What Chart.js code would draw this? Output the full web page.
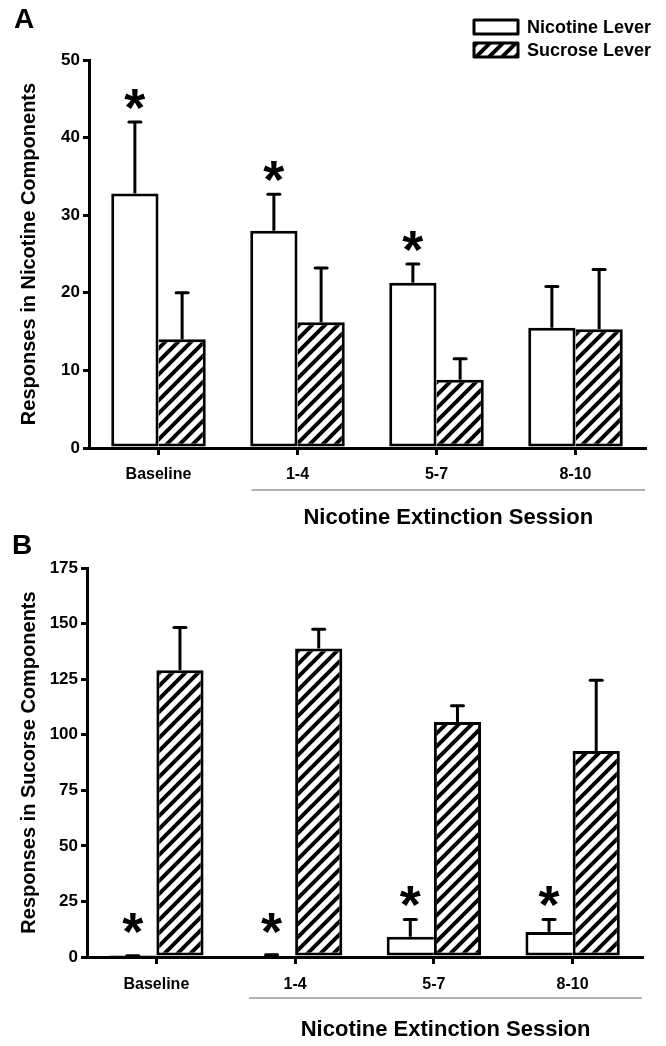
<!DOCTYPE html>
<html>
<head>
<meta charset="utf-8">
<script src="https://cdn.jsdelivr.net/npm/chart.js@4.4.1/dist/chart.umd.min.js"></script>
<style>
  html, body { margin: 0; padding: 0; background: #fff; }
  canvas { display: block; position: absolute; left: 0; top: 0; }
</style>
</head>
<body>
<canvas id="panelA" width="666" height="1046"></canvas>
<canvas id="panelB" width="666" height="1046"></canvas>
<script>
'use strict';

const sesiones = ["Baseline", "1-4", "5-7", "8-10"];
const leyenda = ["Nicotine Lever", "Sucrose Lever"];
const tituloX = "Nicotine Extinction Session";

// Panel A: respuestas en componentes de nicotina
const nicotinaA = [32.8, 28.0, 21.3, 15.5];
const nicotinaSemA = [9.2, 4.7, 2.4, 5.3];
const sacarosaA = [14.0, 16.2, 8.8, 15.3];
const sacarosaSemA = [6.0, 7.0, 2.7, 7.7];
const estrellasA = [true, true, true, false];

// Panel B: respuestas en componentes de sacarosa
const nicotinaB = [0.4, 0.7, 9.1, 11.3];
const nicotinaSemB = [0.2, 0.3, 7.8, 5.6];
const sacarosaB = [129.0, 138.8, 105.7, 92.7];
const sacarosaSemB = [19.2, 8.6, 7.3, 31.8];
const estrellasB = [true, true, true, true];

const FUENTE = '"Liberation Sans", Arial, sans-serif';

// patron rayado diagonal
function crearRayado() {
    const s = 13;
    const c = document.createElement('canvas');
    c.width = s; c.height = s;
    const g = c.getContext('2d');
    g.fillStyle = '#fff';
    g.fillRect(0, 0, s, s);
    g.strokeStyle = '#000';
    g.lineWidth = 4;
    g.beginPath();
    g.moveTo(0, s); g.lineTo(s, 0);
    g.moveTo(-2, 2); g.lineTo(2, -2);
    g.moveTo(s - 2, s + 2); g.lineTo(s + 2, s - 2);
    g.stroke();
    return g.createPattern(c, 'repeat');
}
const rayado = crearRayado();

function dibujarEstrella(ctx, x, yc) {
    ctx.font = 'bold 54px ' + FUENTE;
    ctx.textAlign = 'center';
    ctx.textBaseline = 'alphabetic';
    const m = ctx.measureText('*');
    const base = yc + (m.actualBoundingBoxAscent - m.actualBoundingBoxDescent) / 2;
    ctx.fillText('*', x, base);
}

const extrasPanel = {
    id: 'extrasPanel',
    afterDatasetsDraw(chart, args, opts) {
        const ctx = chart.ctx;
        const ys = chart.scales.y;
        const xs = chart.scales.x;
        const area = chart.chartArea;
        ctx.save();
        ctx.strokeStyle = '#000';
        ctx.fillStyle = '#000';

        // barras de error
        chart.data.datasets.forEach((ds, i) => {
            const meta = chart.getDatasetMeta(i);
            meta.data.forEach((bar, j) => {
                const yErr = ys.getPixelForValue(ds.data[j] + ds.sem[j]);
                ctx.lineWidth = 3;
                ctx.lineCap = 'butt';
                ctx.beginPath();
                ctx.moveTo(bar.x, bar.y);
                ctx.lineTo(bar.x, yErr);
                ctx.stroke();
                ctx.lineCap = 'round';
                ctx.beginPath();
                ctx.moveTo(bar.x - 6, yErr);
                ctx.lineTo(bar.x + 6, yErr);
                ctx.stroke();

                if (i === 0 && opts.estrellas[j]) {
                    const yc = Math.min(yErr - 23, area.bottom - 34);
                    dibujarEstrella(ctx, bar.x, yc);
                }
            });
        });

        // linea gris bajo las sesiones de extincion
        const x0 = xs.getPixelForValue(1) - 46;
        const x1 = area.right;
        ctx.strokeStyle = '#999';
        ctx.lineWidth = 1.5;
        ctx.lineCap = 'butt';
        ctx.beginPath();
        ctx.moveTo(x0, area.bottom + opts.lineaGris);
        ctx.lineTo(x1, area.bottom + opts.lineaGris);
        ctx.stroke();

        ctx.fillStyle = '#000';
        ctx.font = 'bold 22px ' + FUENTE;
        ctx.textAlign = 'center';
        ctx.textBaseline = 'middle';
        ctx.fillText(tituloX, (x0 + x1) / 2, area.bottom + opts.tituloX);

        // letra del panel
        ctx.font = 'bold 28px ' + FUENTE;
        ctx.textAlign = 'left';
        ctx.textBaseline = 'alphabetic';
        ctx.fillText(opts.letra, opts.letraX, opts.letraY);

        // leyenda
        if (opts.leyenda) {
            const fondos = ['#fff', rayado];
            fondos.forEach((f, k) => {
                const y0 = 20 + k * 23;
                ctx.fillStyle = f;
                ctx.fillRect(474, y0, 44, 14);
                ctx.strokeStyle = '#000';
                ctx.lineWidth = 3;
                ctx.lineJoin = 'round';
                ctx.strokeRect(474, y0, 44, 14);
                ctx.fillStyle = '#000';
                ctx.font = 'bold 18px ' + FUENTE;
                ctx.textAlign = 'left';
                ctx.textBaseline = 'middle';
                ctx.fillText(leyenda[k], 527, y0 + 8);
            });
        }
        ctx.restore();
    }
};

function crearPanel(id, cfg) {
    // la barra mas baja no dibuja el borde que comparte con su vecina
    const bordeNic = c => ({ top: 3, left: 3, bottom: 3, right: cfg.nicotina[c.dataIndex] >= cfg.sacarosa[c.dataIndex] ? 3 : 0 });
    const bordeSac = c => ({ top: 3, right: 3, bottom: 3, left: cfg.sacarosa[c.dataIndex] > cfg.nicotina[c.dataIndex] ? 3 : 0 });

    return new Chart(document.getElementById(id), {
        type: 'bar',
        data: {
            labels: sesiones,
            datasets: [
                {
                    label: leyenda[0],
                    data: cfg.nicotina,
                    sem: cfg.nicotinaSem,
                    backgroundColor: '#fff',
                    borderColor: '#000',
                    borderWidth: bordeNic,
                    borderSkipped: false
                },
                {
                    label: leyenda[1],
                    data: cfg.sacarosa,
                    sem: cfg.sacarosaSem,
                    backgroundColor: rayado,
                    borderColor: '#000',
                    borderWidth: bordeSac,
                    borderSkipped: false
                }
            ]
        },
        options: {
            responsive: false,
            animation: false,
            devicePixelRatio: 1,
            layout: { padding: { top: cfg.arriba, right: cfg.derecha, left: 0, bottom: cfg.abajo } },
            datasets: { bar: { categoryPercentage: 0.68, barPercentage: 1 } },
            plugins: {
                legend: { display: false },
                tooltip: { enabled: false },
                extrasPanel: cfg.extras
            },
            scales: {
                x: {
                    grid: { display: true, drawOnChartArea: false, offset: false, tickLength: 7, lineWidth: 3, tickWidth: 3, tickColor: '#000', color: '#000' },
                    border: { display: true, width: 3, color: '#000' },
                    ticks: { color: '#000', font: { family: FUENTE, size: 16, weight: 'bold' }, padding: cfg.padX },
                    afterFit(s) { s.height = cfg.altoX; }
                },
                y: {
                    min: 0,
                    max: cfg.maximo,
                    ticks: { stepSize: cfg.paso, color: '#000', font: { family: FUENTE, size: 17, weight: 'bold' }, padding: 3 },
                    grid: { display: true, drawOnChartArea: false, tickLength: 6, lineWidth: 3, tickWidth: 3, tickColor: '#000', color: '#000' },
                    border: { display: true, width: 3, color: '#000' },
                    title: { display: true, text: cfg.tituloY, color: '#000', font: { family: FUENTE, size: 20, weight: 'bold' }, padding: { top: 17, bottom: 0 } },
                    afterFit(s) { s.width = cfg.anchoY; }
                }
            }
        },
        plugins: [extrasPanel]
    });
}

crearPanel('panelA', {
    nicotina: nicotinaA, nicotinaSem: nicotinaSemA,
    sacarosa: sacarosaA, sacarosaSem: sacarosaSemA,
    maximo: 50, paso: 10,
    tituloY: 'Responses in Nicotine Components',
    arriba: 60, derecha: 21, abajo: 523, anchoY: 89, altoX: 75, padX: 10,
    extras: { estrellas: estrellasA, lineaGris: 42, tituloX: 70, letra: 'A', letraX: 14, letraY: 28, leyenda: true }
});

crearPanel('panelB', {
    nicotina: nicotinaB, nicotinaSem: nicotinaSemB,
    sacarosa: sacarosaB, sacarosaSem: sacarosaSemB,
    maximo: 175, paso: 25,
    tituloY: 'Responses in Sucorse Components',
    arriba: 568, derecha: 24, abajo: 0, anchoY: 87, altoX: 89, padX: 11,
    extras: { estrellas: estrellasB, lineaGris: 41, tituloX: 73, letra: 'B', letraX: 12, letraY: 554, leyenda: false }
});
</script>
</body>
</html>
